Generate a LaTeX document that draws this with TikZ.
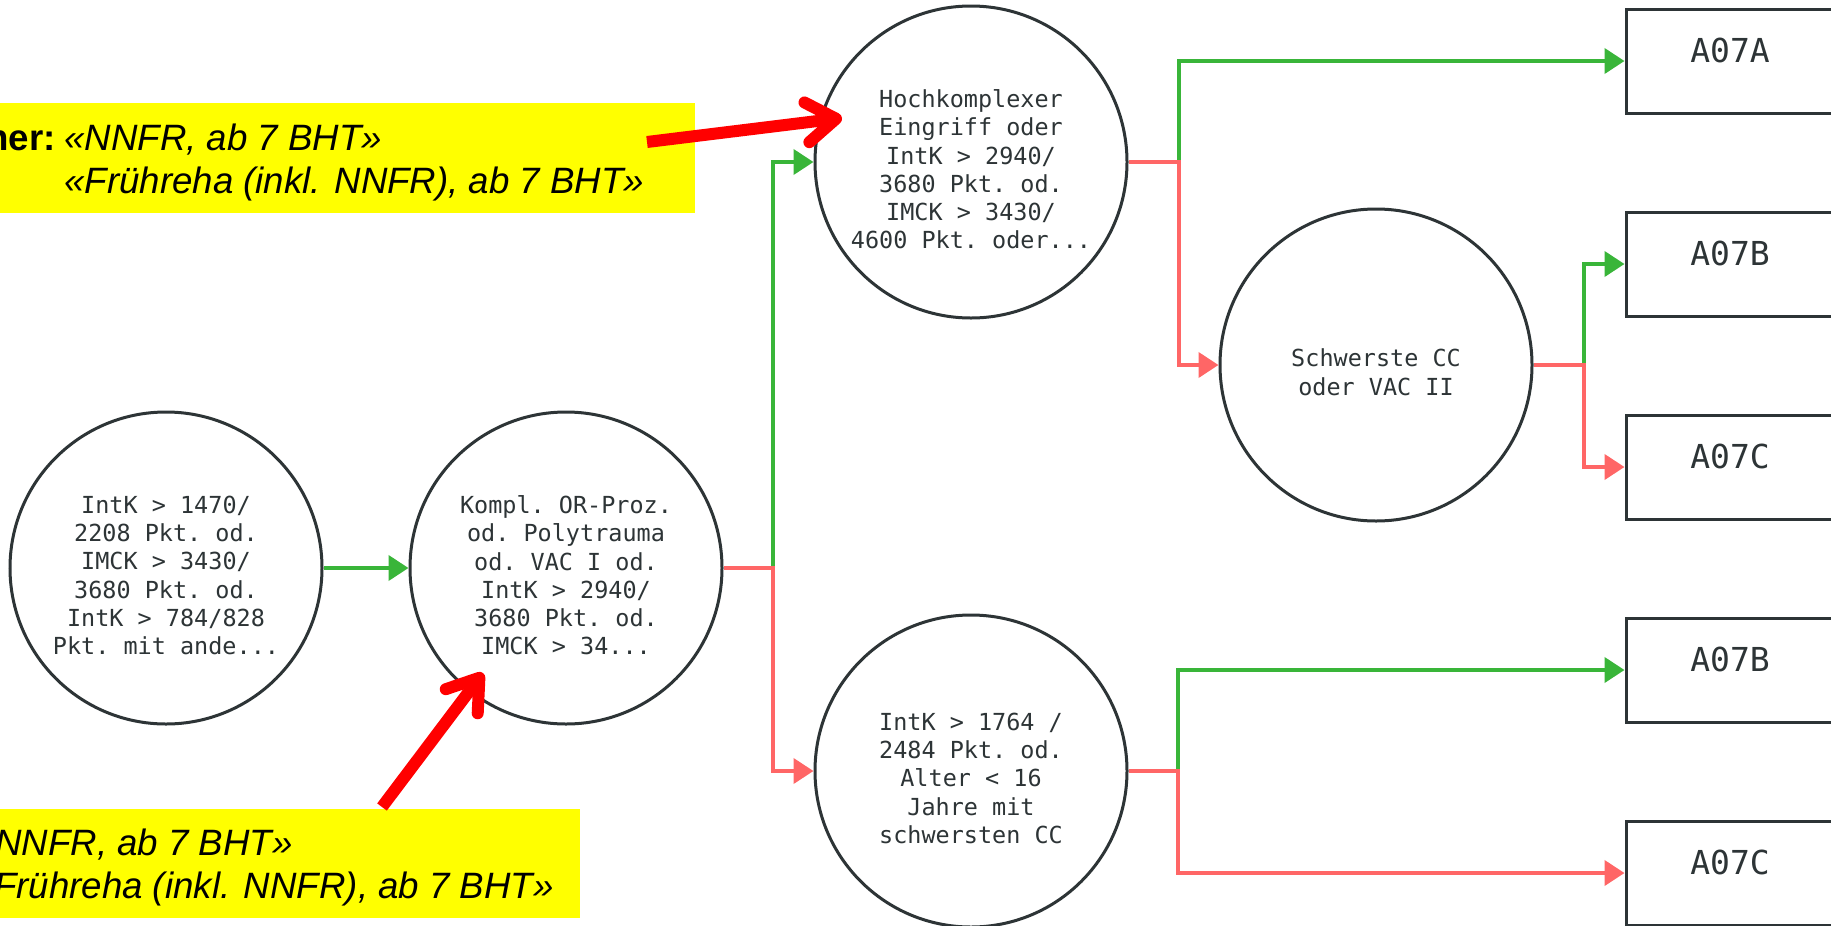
\documentclass[tikz,border=0pt]{standalone}
\usepackage{fontspec}
\setmainfont{Liberation Sans}
\setmonofont{DejaVu Sans Mono}
\usetikzlibrary{arrows.meta}
\definecolor{ink}{RGB}{45,52,54}
\definecolor{okgreen}{RGB}{57,181,57}
\definecolor{nored}{RGB}{255,102,102}
\definecolor{callred}{RGB}{255,0,0}
\definecolor{hl}{RGB}{255,255,0}
\begin{document}
\begin{tikzpicture}[x=0.75pt,y=-0.75pt,
  circ/.style={circle, draw=ink, line width=2.25pt, minimum size=234pt, inner sep=0pt},
  ctext/.style={font=\ttfamily\fontsize{17.6pt}{21.2pt}\selectfont, text=ink, align=center, inner sep=0pt},
  gbox/.style={rectangle, draw=ink, line width=2.25pt, minimum width=156pt, inner xsep=0pt, inner ysep=0pt,
     text height=39.75pt, text depth=38.25pt, font=\ttfamily\fontsize{24.75pt}{30pt}\selectfont, text=ink},
  gline/.style={okgreen, line width=3pt, -{Triangle[length=15pt,width=18.75pt]}},
  rline/.style={nored, line width=3pt, -{Triangle[length=15pt,width=18.75pt]}},
  callout/.style={callred, line width=9pt, -{Straight Barb[round,length=22pt,width=30pt]}},
  ybox/.style={fill=hl, draw=none, inner sep=0pt},
  hlit/.style={font=\itshape\fontsize{27.5pt}{33pt}\selectfont, inner sep=0pt},
]
\useasboundingbox (0,0) rectangle (1831,925);
\clip (0,0) rectangle (1831,925);
\fill[white] (0,0) rectangle (1831,925);

% yellow notes
\node[ybox, minimum width=525pt, minimum height=82.5pt] (y1) at (345,158) {};
\node[ybox, minimum width=438.75pt, minimum height=81.75pt] (y2) at (287.5,863.5) {};
\node[anchor=base east, font=\bfseries\fontsize{27.5pt}{33pt}\selectfont, inner sep=0pt] (n1) at (56,150) {ner:};
\node[anchor=base west, hlit] (n2) at (64,150) {«NNFR, ab 7 BHT»};
\node[anchor=base west, hlit] (n3) at (64,193) {«Frühreha (inkl. NNFR), ab 7 BHT»};
\node[anchor=base east, hlit] (n4) at (293,855) {NNFR, ab 7 BHT»};
\node[anchor=base east, hlit] (n5) at (554,898) {Frühreha (inkl. NNFR), ab 7 BHT»};

% circles
\node[circ] (c1) at (166,568) {};
\node[ctext] (t1) at ([yshift=-5.5pt]c1.center) {IntK > 1470/\\2208 Pkt. od.\\IMCK > 3430/\\3680 Pkt. od.\\IntK > 784/828\\Pkt. mit ande...};
\node[circ] (c2) at (566,568) {};
\node[ctext] (t2) at ([yshift=-5.5pt]c2.center) {Kompl. OR-Proz.\\od. Polytrauma\\od. VAC I od.\\IntK > 2940/\\3680 Pkt. od.\\IMCK > 34...};
\node[circ] (c3) at (971,162) {};
\node[ctext] (t3) at ([yshift=-5.5pt]c3.center) {Hochkomplexer\\Eingriff oder\\IntK > 2940/\\3680 Pkt. od.\\IMCK > 3430/\\4600 Pkt. oder...};
\node[circ] (c4) at (971,771) {};
\node[ctext] (t4) at ([yshift=-5.5pt]c4.center) {IntK > 1764 /\\2484 Pkt. od.\\Alter < 16\\Jahre mit\\schwersten CC};
\node[circ] (c5) at (1376,365) {};
\node[ctext] (t5) at ([yshift=-5.5pt]c5.center) {Schwerste CC\\oder VAC II};

% result boxes
\node[gbox] (b1) at (1730,61) {A07A};
\node[gbox] (b2) at (1730,264) {A07B};
\node[gbox] (b3) at (1730,467) {A07C};
\node[gbox] (b4) at (1730,670) {A07B};
\node[gbox] (b5) at (1730,873) {A07C};

% junctions
\coordinate (j2) at (773,568);
\coordinate (j3) at (1179,162);
\coordinate (j4) at (1178,771);
\coordinate (j5) at (1584,365);

% connectors
\draw[gline] (c1.east) -- (c2.west);
\draw[gline] (c2.east) -- (j2) |- (c3.west);
\draw[rline] (c2.east) -- (j2) |- (c4.west);
\draw[gline] (c3.east) -- (j3) |- (b1.west);
\draw[rline] (c3.east) -- (j3) |- (c5.west);
\draw[gline] (c5.east) -- (j5) |- (b2.west);
\draw[rline] (c5.east) -- (j5) |- (b3.west);
\draw[gline] (c4.east) -- (j4) |- (b4.west);
\draw[rline] (c4.east) -- (j4) |- (b5.west);

% callout arrows
\coordinate (a1s) at (647,142);
\coordinate (a1e) at (842,118);
\coordinate (a2s) at (382,807);
\coordinate (a2e) at (483,673);
\draw[callout] (a1s) -- (a1e);
\draw[callout] (a2s) -- (a2e);
\end{tikzpicture}
\end{document}
